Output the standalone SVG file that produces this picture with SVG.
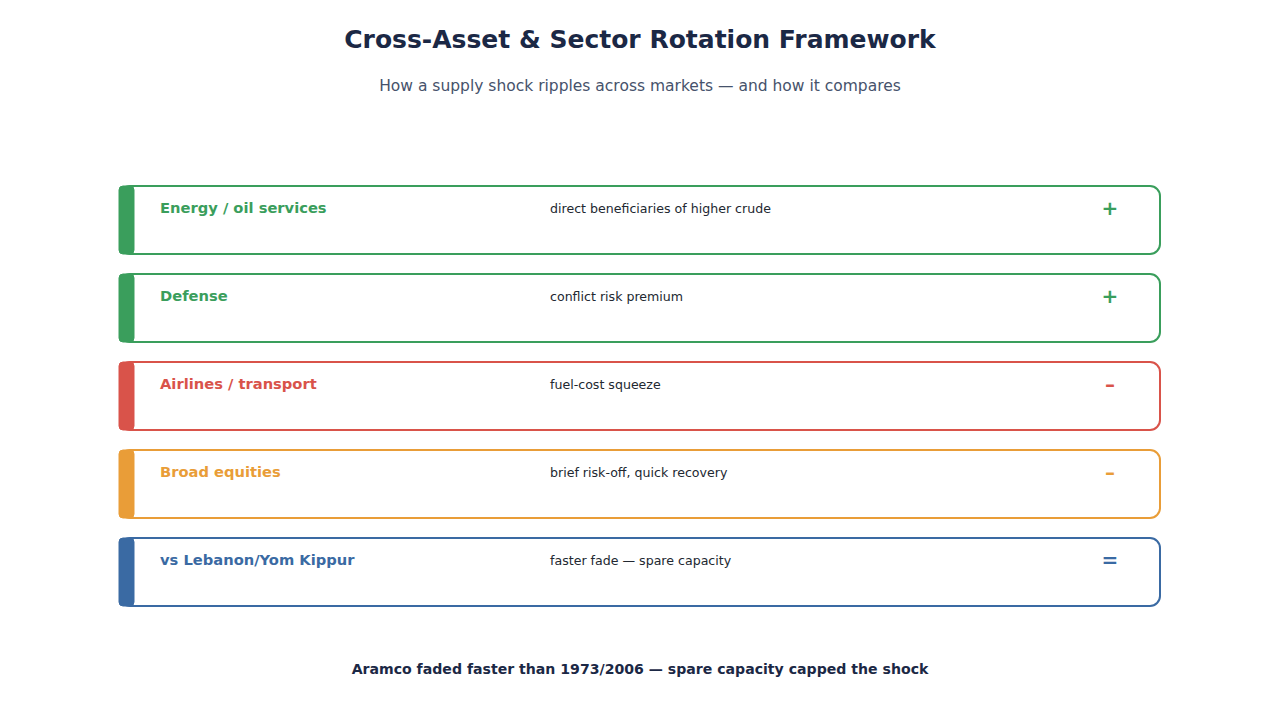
<svg xmlns="http://www.w3.org/2000/svg" width="1280" height="720" viewBox="0 0 1280 720">
<style>
.title{font-family:"DejaVu Sans",sans-serif;font-weight:bold;font-size:25px;fill:#1b2845;text-anchor:middle}
.sub{font-family:"DejaVu Sans",sans-serif;font-size:15.5px;fill:#46526b;text-anchor:middle}
.box{fill:#fff;stroke-width:2}
.lbl{font-family:"DejaVu Sans",sans-serif;font-weight:bold;font-size:14.7px}
.desc{font-family:"DejaVu Sans",sans-serif;font-size:12.6px;fill:#222831}
.sign{font-family:"DejaVu Sans",sans-serif;font-weight:bold;font-size:20px;text-anchor:middle}
.foot{font-family:"DejaVu Sans",sans-serif;font-weight:bold;font-size:14.1px;fill:#1b2845;text-anchor:middle}
.g{stroke:#3a9e5c;fill:#3a9e5c}
.r{stroke:#d9534a;fill:#d9534a}
.o{stroke:#e99d38;fill:#e99d38}
.b{stroke:#3a6aa3;fill:#3a6aa3}
</style>
<rect width="1280" height="720" fill="#fff"/>
<text class="title" x="640" y="48">Cross-Asset &amp; Sector Rotation Framework</text>
<text class="sub" x="640" y="91">How a supply shock ripples across markets — and how it compares</text>

<g id="node-energy">
<rect class="box g" style="fill:#fff" x="120" y="186" width="1040" height="68" rx="10"/>
<rect class="g" x="119" y="186" width="15" height="68" rx="4" stroke="none"/>
<text class="lbl" x="160" y="213" style="fill:#3a9e5c">Energy / oil services</text>
<text class="desc" x="550" y="213">direct beneficiaries of higher crude</text>
<text class="sign" x="1110" y="215" style="fill:#3a9e5c">+</text>
</g>
<g id="node-defense">
<rect class="box g" style="fill:#fff" x="120" y="274" width="1040" height="68" rx="10"/>
<rect class="g" x="119" y="274" width="15" height="68" rx="4" stroke="none"/>
<text class="lbl" x="160" y="301" style="fill:#3a9e5c">Defense</text>
<text class="desc" x="550" y="301">conflict risk premium</text>
<text class="sign" x="1110" y="303" style="fill:#3a9e5c">+</text>
</g>
<g id="node-airlines">
<rect class="box r" style="fill:#fff" x="120" y="362" width="1040" height="68" rx="10"/>
<rect class="r" x="119" y="362" width="15" height="68" rx="4" stroke="none"/>
<text class="lbl" x="160" y="389" style="fill:#d9534a">Airlines / transport</text>
<text class="desc" x="550" y="389">fuel-cost squeeze</text>
<text class="sign" x="1110" y="391" style="fill:#d9534a">–</text>
</g>
<g id="node-equities">
<rect class="box o" style="fill:#fff" x="120" y="450" width="1040" height="68" rx="10"/>
<rect class="o" x="119" y="450" width="15" height="68" rx="4" stroke="none"/>
<text class="lbl" x="160" y="477" style="fill:#e99d38">Broad equities</text>
<text class="desc" x="550" y="477">brief risk-off, quick recovery</text>
<text class="sign" x="1110" y="479" style="fill:#e99d38">–</text>
</g>
<g id="node-compare">
<rect class="box b" style="fill:#fff" x="120" y="538" width="1040" height="68" rx="10"/>
<rect class="b" x="119" y="538" width="15" height="68" rx="4" stroke="none"/>
<text class="lbl" x="160" y="565" style="fill:#3a6aa3">vs Lebanon/Yom Kippur</text>
<text class="desc" x="550" y="565">faster fade — spare capacity</text>
<text class="sign" x="1110" y="567" style="fill:#3a6aa3">=</text>
</g>
<g id="connectors"></g>
<text class="foot" x="640" y="674">Aramco faded faster than 1973/2006 — spare capacity capped the shock</text>
</svg>
